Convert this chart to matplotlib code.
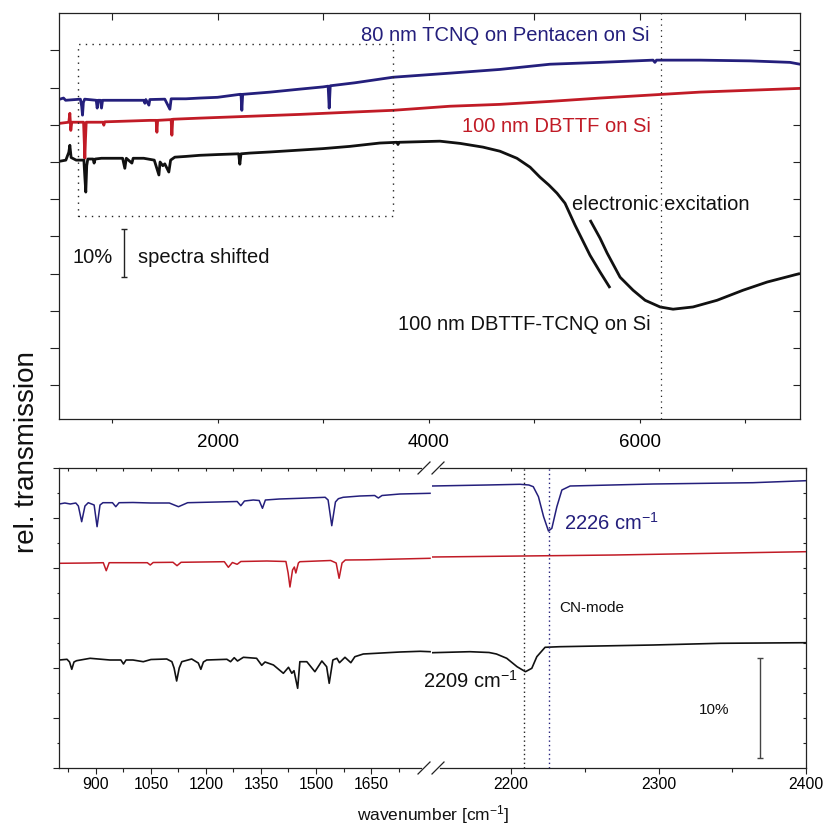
import matplotlib
matplotlib.use('Agg')
import matplotlib.pyplot as plt
from matplotlib.lines import Line2D

plt.rcParams['font.family'] = ['Liberation Sans', 'DejaVu Sans']
plt.rcParams['mathtext.fontset'] = 'custom'
plt.rcParams['mathtext.rm'] = 'Liberation Sans'
plt.rcParams['mathtext.it'] = 'Liberation Sans:italic'
plt.rcParams['mathtext.bf'] = 'Liberation Sans:bold'

BLUE = '#241f7c'
RED = '#c11b26'
BLACK = '#111111'
INK = '#222222'

# ---------------- top panel: full spectra (wavenumber, shifted rel. transmission) ----------------
# DBTTF-TCNQ: vibrational region down to the upper flank of the electronic band
top_black_x = [505, 562, 590, 600, 612, 660, 733, 742, 751, 760, 770, 820, 830, 840, 900, 1000, 1100,
               1121, 1135, 1188, 1200, 1300, 1400, 1444, 1455, 1481, 1500, 1538, 1555, 1595, 1700,
               1832, 2000, 2200, 2211, 2222, 2306, 2500, 2780, 3000, 3254, 3538, 3700, 3710, 3720,
               4107, 4299, 4515, 4676, 4837, 4962, 5056, 5140, 5217, 5293, 5388, 5530, 5625, 5720]
top_black_y = [6.02, 6.05, 6.26, 6.45, 6.12, 6.05, 6.05, 5.60, 5.19, 5.90, 6.08, 6.08, 5.97, 6.08, 6.10,
               6.10, 6.10, 5.83, 6.10, 5.97, 6.10, 6.10, 6.05, 5.65, 6.00, 5.90, 5.95, 5.73, 6.05, 6.13,
               6.15, 6.18, 6.20, 6.22, 5.94, 6.22, 6.24, 6.27, 6.32, 6.36, 6.42, 6.51, 6.53, 6.47, 6.53,
               6.56, 6.50, 6.40, 6.29, 6.10, 5.86, 5.59, 5.38, 5.16, 4.89, 4.30, 3.49, 3.04, 2.61]
# DBTTF-TCNQ: lower flank, band minimum and high-wavenumber side (drawn offset in the original)
top_band_x = [5530, 5625, 5692, 5815, 5938, 6052, 6194, 6317, 6506, 6734, 6980, 7208, 7492, 7520]
top_band_y = [4.44, 3.95, 3.55, 2.90, 2.55, 2.28, 2.10, 2.04, 2.10, 2.28, 2.55, 2.77, 2.98, 3.00]

top_blue_x = [505, 540, 560, 700, 712, 720, 728, 740, 850, 859, 868, 890, 900, 910, 1000, 1300, 1311,
              1320, 1349, 1358, 1500, 1548, 1560, 1700, 1832, 2000, 2211, 2222, 2230, 2238, 2500,
              2780, 3000, 3048, 3058, 3068, 3300, 3662, 4202, 4676, 5150, 5624, 6127, 6145, 6160,
              6572, 7046, 7425, 7520]
top_blue_y = [7.69, 7.72, 7.66, 7.69, 7.50, 7.26, 7.60, 7.69, 7.66, 7.45, 7.66, 7.66, 7.45, 7.66, 7.66,
              7.66, 7.58, 7.68, 7.53, 7.68, 7.69, 7.42, 7.70, 7.70, 7.72, 7.74, 7.82, 7.82, 7.39, 7.82,
              7.88, 7.96, 8.02, 8.04, 7.45, 8.05, 8.13, 8.28, 8.39, 8.49, 8.63, 8.68, 8.74, 8.68, 8.74,
              8.74, 8.72, 8.68, 8.63]

top_red_x = [505, 590, 600, 609, 618, 730, 736, 742, 748, 755, 915, 922, 930, 1358, 1418, 1425, 1432,
             1560, 1567, 1575, 1832, 2306, 2780, 3254, 3662, 4202, 4676, 5150, 5624, 6098, 6572,
             7046, 7520]
top_red_y = [7.04, 7.07, 7.31, 6.85, 7.07, 7.07, 6.60, 6.10, 6.60, 7.07, 7.07, 6.99, 7.08, 7.12, 7.12,
             6.80, 7.12, 7.14, 6.72, 7.15, 7.18, 7.23, 7.28, 7.34, 7.39, 7.50, 7.55, 7.63, 7.72,
             7.80, 7.88, 7.93, 7.98]

top_xticks = [2000, 4000, 6000]
top_xticklabels = ['2000', '4000', '6000']
top_xminor = [1000, 3000, 5000, 7000]
excitation_x = 6200
zoom_box_x = [675, 3660]
zoom_box_y = [4.54, 9.17]

# ---------------- bottom panel: zoomed spectra (broken wavenumber axis) ----------------
low_blue_x = [800, 815, 830, 845, 852, 861, 870, 879, 895, 903, 911, 919, 945, 954, 963, 1001, 1050,
              1100, 1125, 1150, 1230, 1285, 1295, 1305, 1329, 1345, 1354, 1362, 1400, 1456, 1525,
              1533, 1543, 1553, 1561, 1574, 1620, 1660, 1670, 1680, 1729, 1811]
low_blue_y = [26.40, 26.50, 26.40, 26.50, 26.20, 24.63, 26.20, 26.53, 26.30, 24.13, 26.30, 26.53,
              26.53, 26.13, 26.53, 26.55, 26.50, 26.50, 26.13, 26.53, 26.60, 26.65, 26.23, 26.70,
              26.80, 26.75, 25.97, 26.80, 26.90, 26.97, 27.07, 26.80, 24.23, 26.60, 26.93, 27.07,
              27.20, 27.25, 27.00, 27.25, 27.40, 27.47]

low_red_x = [800, 880, 920, 928, 936, 1040, 1048, 1056, 1110, 1121, 1132, 1250, 1261, 1272, 1285,
             1295, 1366, 1418, 1424, 1429, 1436, 1441, 1445, 1452, 1456, 1540, 1555, 1563, 1571,
             1580, 1638, 1693, 1811]
low_red_y = [20.47, 20.50, 20.53, 19.73, 20.53, 20.53, 20.30, 20.55, 20.57, 20.23, 20.57, 20.63,
             20.07, 20.55, 20.37, 20.65, 20.70, 20.65, 19.50, 18.10, 19.80, 20.10, 19.50, 20.50,
             20.63, 20.75, 20.50, 18.97, 20.50, 20.80, 20.82, 20.87, 20.97]

low_black_x = [800, 821, 828, 834, 840, 847, 884, 938, 968, 975, 982, 1001, 1029, 1050, 1093, 1107,
               1113, 1120, 1127, 1134, 1161, 1179, 1186, 1193, 1202, 1257, 1267, 1277, 1286, 1302,
               1338, 1352, 1361, 1384, 1411, 1425, 1434, 1440, 1450, 1456, 1475, 1497, 1516, 1529,
               1536, 1546, 1557, 1564, 1579, 1595, 1606, 1629, 1729, 1784, 1811]
low_black_y = [10.80, 10.87, 10.60, 9.87, 10.60, 10.73, 10.97, 10.80, 10.80, 10.40, 10.80, 10.80,
               10.63, 10.85, 10.90, 10.63, 10.00, 8.70, 10.00, 10.63, 10.90, 10.50, 9.87, 10.60,
               10.80, 10.87, 10.63, 11.03, 10.70, 11.07, 10.97, 10.27, 10.60, 10.30, 9.47, 10.07,
               9.47, 9.73, 7.97, 10.63, 10.63, 9.63, 10.70, 10.13, 8.47, 10.80, 10.97, 10.53,
               11.07, 10.53, 11.13, 11.40, 11.60, 11.67, 11.63]

cn_blue_x = [2146.3, 2183.5, 2206, 2212, 2215, 2218.5, 2222, 2225.3, 2227.6, 2231, 2234.4, 2240,
             2296.5, 2364, 2400]
cn_blue_y = [28.20, 28.30, 28.37, 28.30, 28.13, 27.13, 25.13, 23.70, 23.97, 26.13, 27.80, 28.20,
             28.40, 28.53, 28.73]
cn_red_x = [2146.3, 2270, 2400]
cn_red_y = [21.10, 21.30, 21.63]
cn_black_x = [2146.3, 2172, 2185, 2190, 2197, 2204, 2209.7, 2214, 2217.4, 2223, 2233, 2296.5,
              2341.7, 2400]
cn_black_y = [11.53, 11.63, 11.55, 11.40, 10.97, 10.13, 9.63, 9.97, 11.13, 12.07, 12.13, 12.30,
              12.47, 12.53]

cn_black_pos = 2209
cn_blue_pos = 2226
low_xticks = [900, 1050, 1200, 1350, 1500, 1650]
low_xminor = [825, 975, 1125, 1275, 1425, 1575, 1725]
cn_xticks = [2200, 2300, 2400]
cn_xminor = [2250, 2350]

# ---------------- figure ----------------
W, H = 823, 825
fig = plt.figure(figsize=(W / 100, H / 100), dpi=100)


def px_box(x0, y0, x1, y1):
    return [x0 / W, 1 - y1 / H, (x1 - x0) / W, (y1 - y0) / H]


def fpx(x, y):
    return x / W, 1 - y / H


# ---- top axes ----
ax = fig.add_axes(px_box(59.3, 13.3, 800, 419))
ax.set_xlim(500, 7520)
ax.set_ylim(-0.914, 10.0)
ax.plot(top_blue_x, top_blue_y, color=BLUE, lw=2.0, solid_joinstyle='round')
ax.plot(top_red_x, top_red_y, color=RED, lw=2.0, solid_joinstyle='round')
ax.plot(top_black_x, top_black_y, color=BLACK, lw=2.0, solid_joinstyle='round',
        solid_capstyle='butt')
ax.plot(top_band_x, top_band_y, color=BLACK, lw=2.0, solid_joinstyle='round',
        solid_capstyle='butt')
ax.axvline(excitation_x, color=INK, lw=0.9, ls=(0, (1, 3.5)))
ax.plot([zoom_box_x[0], zoom_box_x[1], zoom_box_x[1], zoom_box_x[0], zoom_box_x[0]],
        [zoom_box_y[0], zoom_box_y[0], zoom_box_y[1], zoom_box_y[1], zoom_box_y[0]],
        color=INK, lw=1.0, ls=(0, (1, 3.8)))
ax.errorbar(1110, 3.545, yerr=0.645, fmt='none', ecolor=INK, elinewidth=1.0, capsize=2.5,
            capthick=1.0)

ax.text(6095, 9.25, '80 nm TCNQ on Pentacen on Si', color=BLUE, fontsize=14.5, ha='right',
        va='baseline')
ax.text(6108, 6.80, '100 nm DBTTF on Si', color=RED, fontsize=14.5, ha='right', va='baseline')
ax.text(5359, 4.70, 'electronic excitation', color=BLACK, fontsize=14.5, ha='left', va='baseline')
ax.text(6108, 1.48, '100 nm DBTTF-TCNQ on Si', color=BLACK, fontsize=14.5, ha='right',
        va='baseline')
ax.text(1010, 3.28, '10%', color=BLACK, fontsize=14.5, ha='right', va='baseline')
ax.text(1244, 3.28, 'spectra shifted', color=BLACK, fontsize=14.5, ha='left', va='baseline')

ax.set_xticks(top_xticks)
ax.set_xticklabels(top_xticklabels)
ax.set_xticks(top_xminor, minor=True)
ax.set_yticks(range(0, 10))
ax.set_yticklabels([])
ax.tick_params(axis='x', which='both', direction='out', length=3.1, width=0.8, color=INK,
               labelsize=13.5, pad=7.5)
ax.tick_params(axis='y', which='both', direction='out', length=6.3, width=0.8, color=INK)
for s in ax.spines.values():
    s.set_linewidth(0.9)
    s.set_color(INK)
sx = ax.secondary_xaxis('top')
sx.set_xticks(top_xticks + top_xminor)
sx.set_xticklabels([])
sx.tick_params(direction='in', length=5.3, width=0.8, color=INK)
sx.spines['top'].set_visible(False)
sy = ax.secondary_yaxis('right')
sy.set_yticks(range(0, 10))
sy.set_yticklabels([])
sy.tick_params(direction='in', length=4.8, width=0.8, color=INK)
sy.spines['right'].set_visible(False)

# ---- bottom axes (broken) ----
axl = fig.add_axes(px_box(59.3, 468, 431, 768))
axr = fig.add_axes(px_box(432, 468, 806, 768))
axl.set_xlim(800, 1813.6)
axr.set_xlim(2146.3, 2400)
for a in (axl, axr):
    a.set_ylim(0, 30)
    for s in a.spines.values():
        s.set_linewidth(0.9)
        s.set_color(INK)

axl.plot(low_blue_x, low_blue_y, color=BLUE, lw=1.1)
axl.plot(low_red_x, low_red_y, color=RED, lw=1.1)
axl.plot(low_black_x, low_black_y, color=BLACK, lw=1.2)
axr.plot(cn_blue_x, cn_blue_y, color=BLUE, lw=1.1)
axr.plot(cn_red_x, cn_red_y, color=RED, lw=1.1)
axr.plot(cn_black_x, cn_black_y, color=BLACK, lw=1.2)
axr.axvline(cn_black_pos, color=INK, lw=1.0, ls=(0, (1, 2.2)))
axr.axvline(cn_blue_pos, color=BLUE, lw=1.0, ls=(0, (1, 2.2)))
axr.errorbar(2369, 6.0, yerr=5.0, fmt='none', ecolor='#444444', elinewidth=1.0, capsize=2.0,
             capthick=1.0)

axr.text(2236, 23.8, '2226 cm$^{\\mathregular{-1}}$', color=BLUE, fontsize=14.5, ha='left',
         va='baseline')
axr.text(2140, 8.0, '2209 cm$^{\\mathregular{-1}}$', color=BLACK, fontsize=14.5, ha='left',
         va='baseline', clip_on=False)
axr.text(2232.5, 15.6, 'CN-mode', color=BLACK, fontsize=11, ha='left', va='baseline')
axr.text(2327.5, 5.4, '10%', color=BLACK, fontsize=11, ha='left', va='baseline')

axl.spines['right'].set_visible(False)
axr.spines['left'].set_visible(False)
axl.spines['top'].set_bounds(800, 1786)
axl.spines['bottom'].set_bounds(800, 1786)
axr.spines['top'].set_bounds(2152, 2400)
axr.spines['bottom'].set_bounds(2152, 2400)

axl.set_xticks(low_xticks)
axl.set_xticklabels([str(v) for v in low_xticks])
axl.set_xticks(low_xminor, minor=True)
axl.set_yticks([0, 5, 10, 15, 20, 25, 30])
axl.set_yticks([2.5, 7.5, 12.5, 17.5, 22.5, 27.5], minor=True)
axl.set_yticklabels([])
axl.tick_params(axis='x', which='major', direction='out', length=4.1, width=0.8, color=INK,
                labelsize=11.3, pad=2.5)
axl.tick_params(axis='x', which='minor', direction='out', length=2.9, width=0.8, color=INK)
axl.tick_params(axis='y', which='major', direction='out', length=4.1, width=0.8, color=INK)
axl.tick_params(axis='y', which='minor', direction='out', length=1.6, width=0.8, color=INK)
slx = axl.secondary_xaxis('top')
slx.set_xticks(low_xticks + low_xminor)
slx.set_xticklabels([])
slx.tick_params(direction='in', length=2.4, width=0.8, color=INK)
slx.spines['top'].set_visible(False)

axr.set_xticks(cn_xticks)
axr.set_xticklabels([str(v) for v in cn_xticks])
axr.set_xticks(cn_xminor, minor=True)
axr.tick_params(axis='x', which='major', direction='out', length=4.1, width=0.8, color=INK,
                labelsize=11.3, pad=2.5)
axr.tick_params(axis='x', which='minor', direction='out', length=2.9, width=0.8, color=INK)
axr.set_yticks([])
srx = axr.secondary_xaxis('top')
srx.set_xticks(cn_xticks + cn_xminor)
srx.set_xticklabels([])
srx.tick_params(direction='in', length=2.4, width=0.8, color=INK)
srx.spines['top'].set_visible(False)
sry = axr.secondary_yaxis('right')
sry.set_yticks([2.5 * k for k in range(1, 12)])
sry.set_yticklabels([])
sry.tick_params(direction='in', length=2.2, width=0.8, color=INK)
sry.spines['right'].set_visible(False)

# break marks on the bottom panel
for ycen in (468, 768):
    for xcen in (424, 438):
        (x0, y0), (x1, y1) = fpx(xcen - 6, ycen + 6), fpx(xcen + 6, ycen - 6)
        fig.add_artist(Line2D([x0, x1], [y0, y1], color=INK, lw=0.9, transform=fig.transFigure))

# axis titles
fig.text(*fpx(433, 815), 'wavenumber [cm$^{\\mathregular{-1}}$]', fontsize=12.5, ha='center',
         va='center', color=BLACK)
fig.text(*fpx(27, 452), 'rel. transmission', fontsize=20, rotation=90, ha='center', va='center',
         color=BLACK)

fig.savefig('out.png', dpi=100)
